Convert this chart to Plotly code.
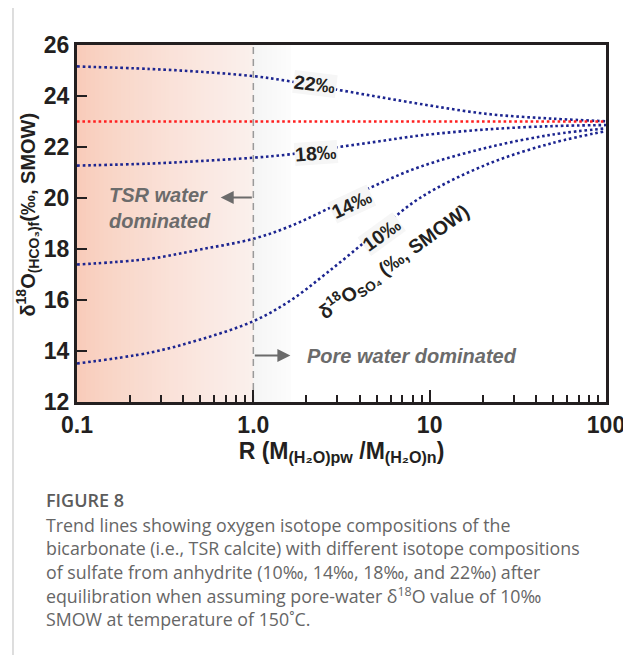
import plotly.graph_objects as go
import numpy as np

# ---------------- data ----------------
R_values = [0.1, 0.26, 0.5, 1.0, 1.6, 2.6, 4.8, 8.8, 21, 50, 100]
curve_22 = [25.16, 25.06, 24.95, 24.78, 24.58, 24.32, 24.00, 23.69, 23.30, 23.11, 23.01]
curve_18 = [21.27, 21.35, 21.45, 21.58, 21.71, 21.93, 22.19, 22.45, 22.69, 22.82, 22.86]
curve_14 = [17.39, 17.62, 17.98, 18.40, 18.88, 19.55, 20.46, 21.22, 21.97, 22.49, 22.73]
curve_10 = [13.51, 13.94, 14.45, 15.17, 15.95, 17.05, 18.55, 20.00, 21.31, 22.16, 22.62]
curve_names = ["22‰", "18‰", "14‰", "10‰"]

pore_water_R = [0.1, 100]
pore_water_value = [23, 23]
boundary_R = [1.0, 1.0]
boundary_y = [12, 26]

x_tickvals = [0.1, 1, 10, 100]
x_ticktext = ["0.1", "1.0", "10", "100"]
x_minor = [0.2, 0.3, 0.4, 0.5, 0.6, 0.7, 0.8, 0.9,
           2, 3, 4, 5, 6, 7, 8, 9,
           20, 30, 40, 50, 60, 70, 80, 90]
y_tickvals = [12, 14, 16, 18, 20, 22, 24, 26]

caption_title = "FIGURE 8"
caption_lines = [
    "Trend lines showing oxygen isotope compositions of the",
    "bicarbonate (i.e., TSR calcite) with different isotope compositions",
    "of sulfate from anhydrite (10‰, 14‰, 18‰, and 22‰) after",
    "equilibration when assuming pore-water δ<sup>18</sup>O value of 10‰",
    "SMOW at temperature of 150˚C.",
]

# ---------------- figure ----------------
fig = go.Figure()

BLUE = "#1c2590"
for ys in [curve_22, curve_18, curve_14, curve_10]:
    fig.add_trace(go.Scatter(x=R_values, y=ys, mode="lines", line_shape="spline",
                             line=dict(color=BLUE, width=2.6, dash="2.6px,2.8px"),
                             showlegend=False, hoverinfo="skip"))

fig.add_trace(go.Scatter(x=pore_water_R, y=pore_water_value, mode="lines",
                         line=dict(color="#ff2020", width=2.6, dash="2.6px,2.8px"),
                         showlegend=False, hoverinfo="skip"))
fig.add_trace(go.Scatter(x=boundary_R, y=boundary_y, mode="lines",
                         line=dict(color="#9a9a9a", width=1.5, dash="7px,5px"),
                         showlegend=False, hoverinfo="skip"))

# gradient background (paper coords)
shapes = []
n = 40
x_end = 1 / 3
for i in range(n):
    f0 = i / n
    c0 = np.array([249, 204, 186])
    c1 = np.array([251, 241, 238])
    c = c0 + (c1 - c0) * (f0 ** 0.8)
    shapes.append(dict(type="rect", xref="paper", yref="paper",
                       x0=f0 * x_end, x1=(i + 1) / n * x_end + 0.002, y0=0, y1=1,
                       fillcolor="rgb(%d,%d,%d)" % tuple(c.astype(int)),
                       line=dict(width=0), layer="below"))
# light grey band after R=1
m = 8
for i in range(m):
    g = 245 + int(8 * i / m)
    shapes.append(dict(type="rect", xref="paper", yref="paper",
                       x0=x_end + i * 0.07 / m, x1=x_end + (i + 1) * 0.07 / m + 0.001,
                       y0=0, y1=1,
                       fillcolor="rgb(%d,%d,%d)" % (g, g, g),
                       line=dict(width=0), layer="below"))
# outer frame
shapes.append(dict(type="rect", xref="paper", yref="paper",
                   x0=-0.121, x1=1.034, y0=-0.9, y1=1.109,
                   line=dict(color="#c8c8c8", width=1.2), fillcolor="rgba(0,0,0,0)",
                   layer="above"))

ann = []
LABEL_FONT = dict(family="Liberation Sans, Arial", size=19.5, color="#231f20", weight="bold")
LBG = "rgba(246,246,246,1)"
label_pos = [(0.35, 24.49, 7), (0.356, 21.78, -4), (0.56, 19.75, -25), (0.73, 18.57, -36)]
for name, (lx, ly, ang) in zip(curve_names, label_pos):
    ann.append(dict(x=lx, y=ly, xref="x", yref="y", text="<b>%s</b>" % name, showarrow=False,
                    textangle=ang, font=LABEL_FONT, bgcolor=LBG, borderpad=0))
ann.append(dict(x=0.80, y=17.5, xref="x", yref="y",
                text="<b>δ<sup>18</sup>O<sub>SO₄</sub> (‰, SMOW)</b>", showarrow=False,
                textangle=-36, font=dict(family="Liberation Sans, Arial", size=19.5, color="#231f20")))

GREY = "#6b6b6b"
ITAL = dict(family="Liberation Sans, Arial", size=20, color=GREY)
ann.append(dict(x=-0.53, y=19.62, xref="x", yref="y",
                text="<b><i>TSR water<br>dominated</i></b>", showarrow=False, align="left",
                font=ITAL))
ann.append(dict(x=-0.185, y=20.02, ax=0, ay=20.02, xref="x", yref="y", axref="x", ayref="y",
                text="", showarrow=True, arrowhead=2, arrowsize=1.3, arrowwidth=2, arrowcolor=GREY))
ann.append(dict(x=0.21, y=13.82, ax=0, ay=13.82, xref="x", yref="y", axref="x", ayref="y",
                text="", showarrow=True, arrowhead=2, arrowsize=1.3, arrowwidth=2, arrowcolor=GREY))
ann.append(dict(x=0.295, y=13.82, xref="x", yref="y", xanchor="left",
                text="<b><i>Pore water dominated</i></b>", showarrow=False, font=ITAL))

# y-axis title as annotation (placed as in the reference)
ann.append(dict(x=-0.0926, y=0.525, xref="paper", yref="paper", xanchor="center", yanchor="middle",
                text="<b>δ<sup>18</sup>O<sub>(HCO₃)f</sub>(‰, SMOW)</b>", showarrow=False,
                textangle=-90, font=dict(family="Liberation Sans, Arial", size=20, color="#231f20")))

# caption
cap_x = -0.0605
ann.append(dict(x=cap_x, y=-0.2745, xref="paper", yref="paper", xanchor="left", yanchor="middle",
                text=caption_title, showarrow=False, borderpad=0,
                font=dict(family="Open Sans", size=18, color="#5c5c5c", weight=600)))
cap_y = [-0.3445, -0.409, -0.476, -0.541, -0.608]
for t, yy in zip(caption_lines, cap_y):
    ann.append(dict(x=cap_x, y=yy, xref="paper", yref="paper", xanchor="left", yanchor="middle",
                    text=t, showarrow=False, borderpad=0,
                    font=dict(family="Open Sans", size=17.8, color="#666666")))

AX = "#231f20"
TICKFONT = dict(family="Liberation Sans, Arial", size=23, color=AX, weight="bold")
fig.update_layout(
    width=623, height=647,
    margin=dict(l=69, r=25, t=37, b=253),
    paper_bgcolor="white", plot_bgcolor="white",
    shapes=shapes, annotations=ann,
    xaxis=dict(type="log", range=[-1, 2], tickvals=x_tickvals, ticktext=x_ticktext,
               ticks="inside", ticklen=12, tickwidth=2, tickcolor=AX,
               minor=dict(tickvals=x_minor, ticks="inside", ticklen=7, tickwidth=2, tickcolor=AX),
               showline=True, linewidth=3, linecolor=AX, mirror=True,
               showgrid=False, zeroline=False, tickfont=TICKFONT,
               title=dict(text="<b>R (M<sub>(H₂O)pw</sub> /M<sub>(H₂O)n</sub>)</b>",
                          font=dict(family="Liberation Sans, Arial", size=23, color=AX),
                          standoff=4),
               automargin=False),
    yaxis=dict(range=[12, 26], tickvals=y_tickvals,
               ticks="inside", ticklen=10, tickwidth=2, tickcolor=AX,
               showline=True, linewidth=3, linecolor=AX, mirror=True,
               showgrid=False, zeroline=False, tickfont=TICKFONT,
               automargin=False),
)

fig.write_html("out.html")
